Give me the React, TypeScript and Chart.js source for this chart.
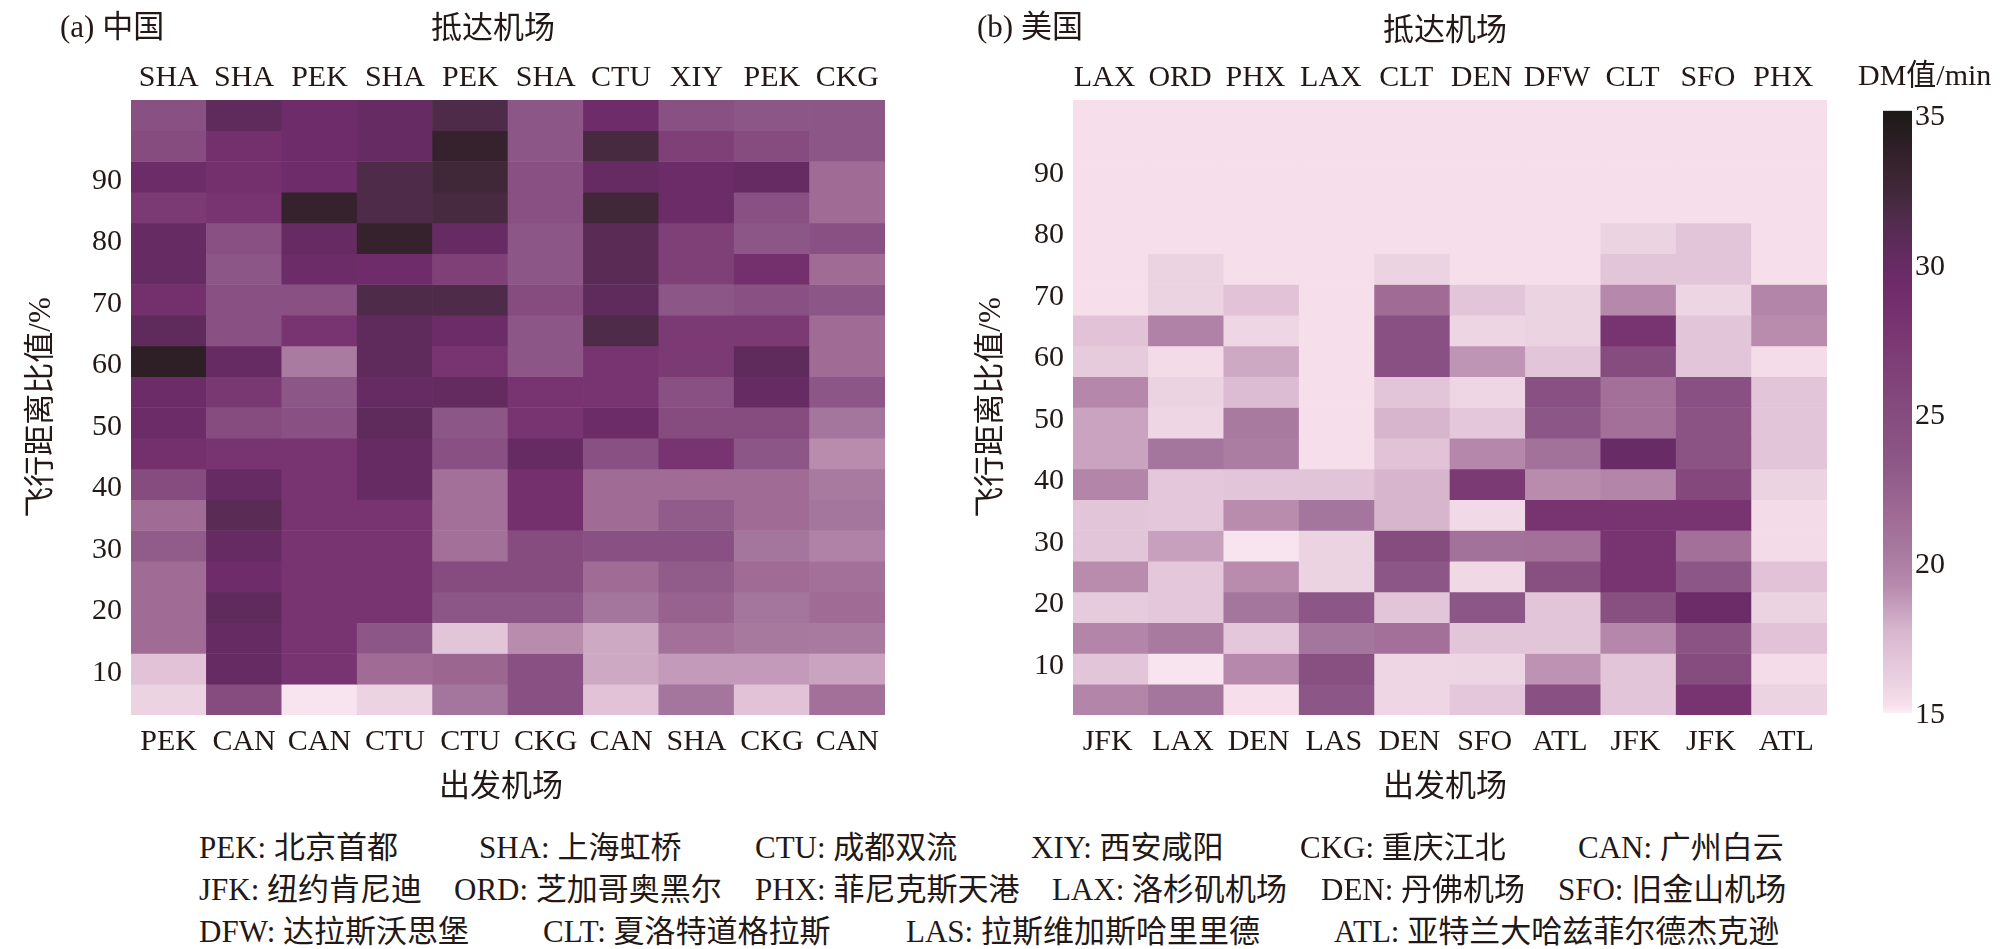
import { useEffect, useRef } from 'react';
import { Chart, registerables } from 'chart.js';

Chart.register(...registerables);

const FONT = '"Liberation Serif", "Noto Sans CJK SC", serif';
const INK = '#231815';

// flight distance bins, top row first
const distanceBins = [100, 95, 90, 85, 80, 75, 70, 65, 60, 55, 50, 45, 40, 35, 30, 25, 20, 15, 10, 5];
const distanceTicks = [10, 20, 30, 40, 50, 60, 70, 80, 90];
const colorbarTicks = [15, 20, 25, 30, 35];

const chinaArrive = ['SHA', 'SHA', 'PEK', 'SHA', 'PEK', 'SHA', 'CTU', 'XIY', 'PEK', 'CKG'];
const chinaDepart = ['PEK', 'CAN', 'CAN', 'CTU', 'CTU', 'CKG', 'CAN', 'SHA', 'CKG', 'CAN'];
const usaArrive = ['LAX', 'ORD', 'PHX', 'LAX', 'CLT', 'DEN', 'DFW', 'CLT', 'SFO', 'PHX'];
const usaDepart = ['JFK', 'LAX', 'DEN', 'LAS', 'DEN', 'SFO', 'ATL', 'JFK', 'JFK', 'ATL'];

// DM values, one list per column, top row first
const chinaDM = [
  [24.2, 25, 29.6, 27.2, 30, 30, 28.6, 30.6, 34, 29.6, 29.6, 28.6, 25, 21.5, 23, 21.5, 21.5, 21.5, 17, 16],
  [30.6, 28.6, 28.6, 28, 24.2, 23.5, 24.2, 24.2, 30, 27.5, 25, 28, 30, 31, 30, 29.2, 30.6, 30, 30, 25],
  [29.2, 29.2, 29.2, 33.5, 30, 29.6, 24.2, 28, 20.3, 23.5, 24.2, 28, 28, 28, 28, 28, 28, 28, 28, 15.2],
  [30, 30, 31.7, 31.7, 33.5, 29.2, 31.7, 30.6, 30.6, 30, 30.6, 30, 30, 28, 28, 28, 28, 23.5, 21.5, 16],
  [31.7, 33.5, 32.5, 32.1, 30, 26.5, 31.7, 29.6, 28, 30.3, 23.5, 24.2, 21.2, 21.2, 21.2, 25, 23.5, 16.8, 22, 20.7],
  [23.5, 23.5, 24.2, 24.2, 23.5, 23.5, 25, 23.5, 23.5, 28, 28, 30, 28.6, 28.6, 25, 25, 23.5, 19.2, 24.2, 24.2],
  [29.2, 32.1, 30, 32.5, 31, 31, 30.6, 31.7, 28, 28, 29.6, 24.2, 21.5, 21.5, 24.2, 21.5, 20.7, 18.2, 18.2, 17],
  [24.2, 26.5, 29.6, 29.6, 26.5, 26.5, 23.5, 27.2, 27.2, 24.2, 25, 28, 21.5, 23, 24.2, 23, 22.4, 21.2, 18.7, 20.7],
  [23.5, 25, 30, 24.2, 23.5, 28.6, 24.2, 27.2, 30.6, 30, 25, 23.5, 21.5, 21.5, 20.7, 21.5, 20.7, 20.5, 18.7, 17],
  [23.5, 23.5, 21.5, 21.5, 24.2, 21.5, 23.5, 21.5, 21.5, 23.5, 20.7, 19.2, 20.4, 20.7, 19.8, 21.2, 21.5, 20.4, 18.4, 21.2],
];

const usaDM = [
  [15.3, 15.3, 15.3, 15.3, 15.3, 15.3, 15.3, 17, 16.5, 19.5, 18.4, 18.4, 19.6, 16.8, 16.8, 19.2, 16.5, 19.6, 16.8, 19.6],
  [15.3, 15.3, 15.3, 15.3, 15.3, 16, 16, 19.8, 15.5, 16, 15.8, 20.7, 16.7, 16.7, 18.5, 16.7, 16.7, 20.4, 15.2, 20.7],
  [15.3, 15.3, 15.3, 15.3, 15.3, 15.3, 17, 15.8, 18.2, 17.4, 20.4, 20.2, 16.8, 19.2, 15.2, 19.2, 20.7, 16.7, 19.4, 15.3],
  [15.3, 15.3, 15.3, 15.3, 15.3, 15.3, 15.3, 15.3, 15.3, 15.3, 15.3, 15.3, 16.9, 20.7, 16, 16, 23.5, 20.7, 24.6, 23.5],
  [15.3, 15.3, 15.3, 15.3, 15.3, 16, 21.5, 24.2, 24.2, 16.8, 17.8, 17, 17.8, 17.8, 25, 23.5, 16.8, 21.2, 15.8, 15.8],
  [15.3, 15.3, 15.3, 15.3, 15.3, 15.3, 16.8, 15.9, 18.9, 15.8, 16.7, 19.5, 27.2, 15.6, 21, 15.7, 23.5, 16.8, 15.9, 16.7],
  [15.3, 15.3, 15.3, 15.3, 15.3, 15.3, 16, 16, 16.8, 24.2, 23.5, 21, 19.2, 28, 21.2, 24.6, 16.8, 16.8, 19, 24.2],
  [15.3, 15.3, 15.3, 15.3, 16, 16.8, 19.4, 28, 25, 21.2, 21.2, 29.8, 19.6, 28, 28, 28, 24.6, 19.5, 16.8, 16.8],
  [15.3, 15.3, 15.3, 15.3, 16.8, 16.8, 15.9, 16.8, 16.8, 24.2, 24, 24, 25.5, 28, 21.2, 23.5, 29.6, 24, 25, 28],
  [15.3, 15.3, 15.3, 15.3, 15.3, 15.3, 19.6, 19.2, 15.4, 16.8, 16.8, 16.8, 16, 15.5, 15.5, 17, 16, 17, 15.4, 16],
];

const colormapValues = [15, 15.3, 16, 17, 17.8, 18.4, 19.2, 19.8, 20.7, 21.5, 23.5, 25, 28, 29.2, 30, 30.6, 31.7, 32.5, 33.5, 35];
const colormapColors = [
  '#fbeff6', '#f6deea', '#ebd3e2', '#e1c2d7', '#d7b5cd', '#c9a3c0', '#b98cae', '#b082a7', '#a5769d', '#a06c95',
  '#8c5686', '#864c7f', '#783471', '#6f2c6a', '#672b64', '#5f2b5c', '#4e2c49', '#402838', '#35222c', '#1e1a18',
];

const legendRows = [
  ['PEK: 北京首都', 'SHA: 上海虹桥', 'CTU: 成都双流', 'XIY: 西安咸阳', 'CKG: 重庆江北', 'CAN: 广州白云'],
  ['JFK: 纽约肯尼迪', 'ORD: 芝加哥奥黑尔', 'PHX: 菲尼克斯天港', 'LAX: 洛杉矶机场', 'DEN: 丹佛机场', 'SFO: 旧金山机场'],
  ['DFW: 达拉斯沃思堡', 'CLT: 夏洛特道格拉斯', 'LAS: 拉斯维加斯哈里里德', 'ATL: 亚特兰大哈兹菲尔德杰克逊'],
];
const legendX = [
  [199, 479, 755, 1031, 1300, 1578],
  [199, 454, 755, 1052, 1321, 1558],
  [199, 543, 906, 1334],
];
const legendY = [847, 889, 931];

function hexToRgb(hex: string) {
  return [1, 3, 5].map((i) => parseInt(hex.slice(i, i + 2), 16));
}

function dmColor(v: number) {
  let i = 0;
  while (i < colormapValues.length - 2 && v > colormapValues[i + 1]) i++;
  const t = Math.min(1, Math.max(0, (v - colormapValues[i]) / (colormapValues[i + 1] - colormapValues[i])));
  const a = hexToRgb(colormapColors[i]);
  const b = hexToRgb(colormapColors[i + 1]);
  return `rgb(${a.map((c, k) => Math.round(c + (b[k] - c) * t)).join(',')})`;
}

function fixHeight(h: number) {
  return (scale: any) => {
    scale.height = h;
  };
}

function HeatPanel({ left, arrive, depart, values, yTitlePad, yShift, topShift, bottomShift }: {
  left: number; arrive: string[]; depart: string[]; values: number[][];
  yTitlePad: number; yShift: number; topShift: number; bottomShift: number;
}) {
  const canvasRef = useRef<HTMLCanvasElement>(null);

  useEffect(() => {
    if (!canvasRef.current) return;
    const tickFont = { family: FONT, size: 30 };
    const chart = new Chart(canvasRef.current, {
      type: 'bar',
      data: {
        labels: depart,
        datasets: distanceBins.map((d, row) => ({
          label: String(d),
          data: values.map(() => [d - 2.5, d + 2.5]),
          backgroundColor: values.map((col) => dmColor(col[row])),
          borderWidth: 0,
          grouped: false,
          barPercentage: 1,
          categoryPercentage: 1,
        })) as any,
      },
      options: {
        animation: false,
        responsive: false,
        layout: { padding: { right: 65 } },
        plugins: { legend: { display: false }, tooltip: { enabled: false } },
        scales: {
          x: {
            position: 'bottom',
            grid: { display: false, drawTicks: false },
            border: { display: false },
            ticks: { color: INK, font: tickFont, padding: 9, autoSkip: false, maxRotation: 0, labelOffset: bottomShift },
            afterFit: fixHeight(89),
          },
          xTop: {
            type: 'category',
            labels: arrive,
            position: 'top',
            offset: true,
            grid: { display: false, drawTicks: false },
            border: { display: false },
            ticks: { color: INK, font: tickFont, padding: 4, autoSkip: false, maxRotation: 0, labelOffset: topShift },
            afterFit: fixHeight(100),
          },
          y: {
            min: 2.5,
            max: 102.5,
            grid: { display: false, drawTicks: false },
            border: { display: false },
            afterBuildTicks: (scale: any) => {
              scale.ticks = distanceTicks.map((value) => ({ value }));
            },
            ticks: { color: INK, font: tickFont, padding: 9, autoSkip: false, labelOffset: yShift },
            title: { display: true, text: '飞行距离比值/%', color: INK, font: { family: FONT, size: 31 }, padding: { top: yTitlePad, bottom: 0 } },
            afterFit: (scale: any) => {
              scale.width = 131;
            },
          },
        },
      },
    } as any);
    return () => chart.destroy();
  }, [arrive, depart, values, yTitlePad, yShift, topShift, bottomShift]);

  return <canvas ref={canvasRef} width={950} height={804} style={{ position: 'absolute', left, top: 0, display: 'block' }} />;
}

function Colorbar() {
  const canvasRef = useRef<HTMLCanvasElement>(null);

  useEffect(() => {
    if (!canvasRef.current) return;
    const chart = new Chart(canvasRef.current, {
      type: 'bar',
      data: {
        labels: ['DM'],
        datasets: [{
          data: [[15, 35.15]],
          barPercentage: 1,
          categoryPercentage: 1,
          borderWidth: 0,
          backgroundColor: (ctx: any) => {
            const { chart: c } = ctx;
            if (!c.chartArea) return colormapColors[0];
            const y = c.scales.y;
            const g = c.ctx.createLinearGradient(0, y.getPixelForValue(15), 0, y.getPixelForValue(35));
            colormapValues.forEach((v, i) => g.addColorStop((v - 15) / 20, colormapColors[i]));
            return g;
          },
        }] as any,
      },
      options: {
        animation: false,
        responsive: false,
        layout: { padding: { left: 23, top: 110.7, bottom: 87 } },
        plugins: { legend: { display: false }, tooltip: { enabled: false } },
        scales: {
          x: { display: false },
          y: {
            position: 'right',
            min: 15,
            max: 35.15,
            grid: { display: false, drawTicks: false },
            border: { display: false },
            afterBuildTicks: (scale: any) => {
              scale.ticks = colorbarTicks.map((value) => ({ value }));
            },
            ticks: { color: INK, font: { family: FONT, size: 30 }, padding: 3, autoSkip: false, labelOffset: 2 },
            afterFit: (scale: any) => {
              scale.width = 96;
            },
          },
        },
      },
    } as any);
    return () => chart.destroy();
  }, []);

  return <canvas ref={canvasRef} width={148} height={800} style={{ position: 'absolute', left: 1860, top: 0, display: 'block' }} />;
}

function Label({ x, y, size = 31, children }: { x: number; y: number; size?: number; children: string }) {
  return (
    <span style={{
      position: 'absolute', left: x, top: y, transform: 'translateY(-50%)', whiteSpace: 'nowrap',
      fontFamily: FONT, fontSize: size, lineHeight: 1, color: INK,
    }}>{children}</span>
  );
}

export default function App() {
  return (
    <div style={{ position: 'absolute', left: 0, top: 0, width: 2008, height: 949, overflow: 'hidden', background: '#fff' }}>
      <HeatPanel left={0} arrive={chinaArrive} depart={chinaDepart} values={chinaDM} yTitlePad={23} yShift={4} topShift={0} bottomShift={0} />
      <HeatPanel left={942} arrive={usaArrive} depart={usaDepart} values={usaDM} yTitlePad={31} yShift={-3} topShift={-6} bottomShift={-3} />
      <Colorbar />
      <Label x={60} y={26}>(a) 中国</Label>
      <Label x={977} y={26}>(b) 美国</Label>
      <Label x={431} y={27}>抵达机场</Label>
      <Label x={1383} y={29}>抵达机场</Label>
      <Label x={439} y={785}>出发机场</Label>
      <Label x={1383} y={785}>出发机场</Label>
      <Label x={1858} y={75} size={30}>DM值/min</Label>
      {legendRows.map((row, r) => row.map((text, i) => (
        <Label key={text} x={legendX[r][i]} y={legendY[r]}>{text}</Label>
      )))}
    </div>
  );
}
